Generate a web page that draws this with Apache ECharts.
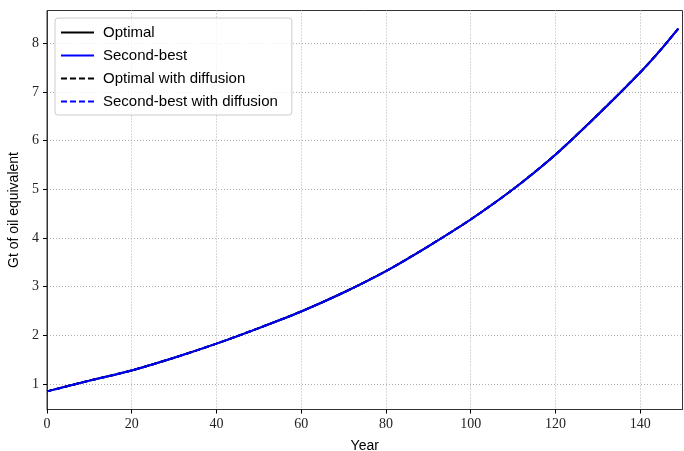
<!DOCTYPE html>
<html>
<head>
<meta charset="utf-8">
<script src="https://cdn.jsdelivr.net/npm/echarts@6/dist/echarts.min.js"></script>
<style>html,body{margin:0;padding:0;background:#fff;}#c{width:684px;height:451px;}</style>
</head>
<body>
<div id="c"></div>
<script>
const years = [0, 10, 20, 30, 40, 50, 60, 70, 80, 90, 100, 110, 120, 130, 140, 145, 149];
const optimal = [0.85, 1.07, 1.28, 1.54, 1.83, 2.15, 2.49, 2.88, 3.32, 3.83, 4.38, 5.00, 5.71, 6.53, 7.40, 7.88, 8.30];
const secondBest = [0.85, 1.07, 1.28, 1.54, 1.83, 2.15, 2.49, 2.88, 3.32, 3.83, 4.38, 5.00, 5.71, 6.53, 7.40, 7.88, 8.30];
const optimalDiffusion = [0.85, 1.07, 1.28, 1.54, 1.83, 2.15, 2.49, 2.88, 3.32, 3.83, 4.38, 5.00, 5.71, 6.53, 7.40, 7.88, 8.30];
const secondBestDiffusion = [0.85, 1.07, 1.28, 1.54, 1.83, 2.15, 2.49, 2.88, 3.32, 3.83, 4.38, 5.00, 5.71, 6.53, 7.40, 7.88, 8.30];
const xTicks = [0, 20, 40, 60, 80, 100, 120, 140];
const yTicks = [1, 2, 3, 4, 5, 6, 7, 8];
const seriesNames = ['Optimal', 'Second-best', 'Optimal with diffusion', 'Second-best with diffusion'];

const pairs = arr => years.map((x, i) => [x, arr[i]]);
const chart = echarts.init(document.getElementById('c'), null, {renderer: 'canvas'});
const serifFont = '"Liberation Serif", "DejaVu Serif", serif';
const sansFont = '"Liberation Sans", Arial, sans-serif';
const mk = (name, data, color, type) => ({
  name, type: 'line', data: pairs(data), smooth: 0.25, symbol: 'none', showSymbol: false,
  lineStyle: {color, width: 2, type}, itemStyle: {color}, animation: false
});
chart.setOption({
  animation: false,
  grid: {left: 47, right: 1.5, top: 10.5, bottom: 41.5, show: true, borderColor: '#333', borderWidth: 1,
    backgroundColor: 'transparent', containLabel: false, outerBoundsMode: 'none'},
  legend: {
    orient: 'vertical', left: 55, top: 18, padding: [7, 14, 6, 5],
    backgroundColor: 'rgba(255,255,255,0.8)', borderColor: '#ccc', borderWidth: 1, borderRadius: 3,
    itemWidth: 33, itemHeight: 14, itemGap: 8,
    itemStyle: {opacity: 0},
    textStyle: {fontFamily: sansFont, fontSize: 15, color: '#000', padding: [0, 0, 0, 4]},
    data: seriesNames
  },
  xAxis: {
    type: 'value', min: 0, max: 150,
    name: 'Year', nameLocation: 'middle', nameGap: 30,
    nameTextStyle: {fontFamily: sansFont, fontSize: 14, color: '#000'},
    axisLine: {show: true, onZero: false, lineStyle: {color: '#333', width: 1}},
    axisTick: {show: true, length: 4, customValues: xTicks, lineStyle: {color: '#000'}},
    axisLabel: {customValues: xTicks, fontFamily: serifFont, fontSize: 14, color: '#222', margin: 8},
    splitLine: {show: true, lineStyle: {color: '#b0b0b0', type: [1, 2], width: 1}}
  },
  yAxis: {
    type: 'value', min: 0.4775, max: 8.6725,
    name: 'Gt of oil equivalent', nameLocation: 'middle', nameGap: 19, nameRotate: 90,
    nameTextStyle: {fontFamily: sansFont, fontSize: 14, color: '#000'},
    axisLine: {show: true, onZero: false, lineStyle: {color: '#333', width: 1}},
    axisTick: {show: true, length: 4, customValues: yTicks, lineStyle: {color: '#000'}},
    axisLabel: {customValues: yTicks, fontFamily: serifFont, fontSize: 14, color: '#222', margin: 8},
    splitLine: {show: true, lineStyle: {color: '#b0b0b0', type: [1, 2], width: 1}}
  },
  series: [
    mk(seriesNames[0], optimal, '#000000', 'solid'),
    mk(seriesNames[1], secondBest, '#0000ff', 'solid'),
    mk(seriesNames[2], optimalDiffusion, '#000000', [6, 3]),
    mk(seriesNames[3], secondBestDiffusion, '#0000ff', [6, 3])
  ]
});
</script>
</body>
</html>
